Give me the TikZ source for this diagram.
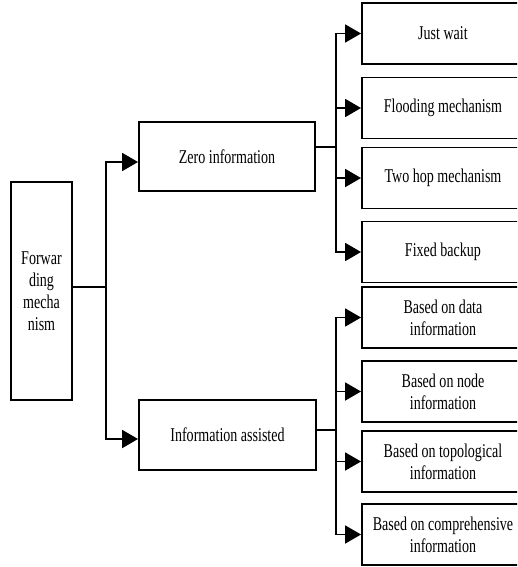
\documentclass[tikz,border=0pt]{standalone}
\usepackage{fontspec}
\setmainfont{Liberation Serif}[FakeStretch=0.72]
\usetikzlibrary{arrows.meta}

\begin{document}
\begin{tikzpicture}[x=1pt,y=-1pt,
  box/.style={draw, line width=1.9pt, inner sep=0pt, align=center,
    font=\fontsize{19.5}{22}\selectfont},
  conn/.style={line width=1.9pt},
  arrowline/.style={line width=1.9pt, -{Triangle[length=16pt,width=18pt]}},
  leaf/.style={box, minimum width=162pt, minimum height=61pt}]

  \useasboundingbox (0,0) rectangle (517,567);
  \clip (0,0) rectangle (517,567);

  % root and second level
  \node[box, minimum width=61pt, minimum height=218pt] (fwd) at (41.5,291)
    {Forwar\\ding\\mecha\\nism};
  \node[box, minimum width=176pt, minimum height=69pt] (zero) at (227,156.5)
    {Zero information};
  \node[box, minimum width=177pt, minimum height=70pt] (info) at (227.5,435)
    {Information assisted};

  % leaves of the zero-information branch
  \node[leaf] (wait)  at (443,33.5)  {Just wait};
  \node[leaf] (flood) at (443,108)   {Flooding mechanism};
  \node[leaf] (hop)   at (443,178)   {Two hop mechanism};
  \node[leaf] (fixed) at (443,252)   {Fixed backup};

  % leaves of the information-assisted branch
  \node[leaf] (data)  at (443,317.5) {Based on data\\information};
  \node[leaf] (nodeinfo) at (443,391.5) {Based on node\\information};
  \node[leaf] (topo)  at (443,461.5) {Based on topological\\information};
  \node[leaf] (comp)  at (443,534.5) {Based on comprehensive\\information};

  % branching points
  \coordinate (split)  at (106,287);
  \coordinate (zsplit) at (336,147);
  \coordinate (isplit) at (336,430);

  % root to second level
  \draw[conn] ([yshift=4pt]fwd.east) -- (split);
  \draw[arrowline] (split) |- ([yshift=-5.5pt]zero.west);
  \draw[arrowline] (split) |- ([yshift=-4pt]info.west);

  % second level to leaves
  \draw[conn] ([yshift=9.5pt]zero.east) -- (zsplit);
  \foreach \n in {wait,flood,hop,fixed}
    \draw[arrowline] (zsplit) |- (\n.west);

  \draw[conn] ([yshift=5pt]info.east) -- (isplit);
  \foreach \n in {data,nodeinfo,topo,comp}
    \draw[arrowline] (isplit) |- (\n.west);
\end{tikzpicture}
\end{document}
